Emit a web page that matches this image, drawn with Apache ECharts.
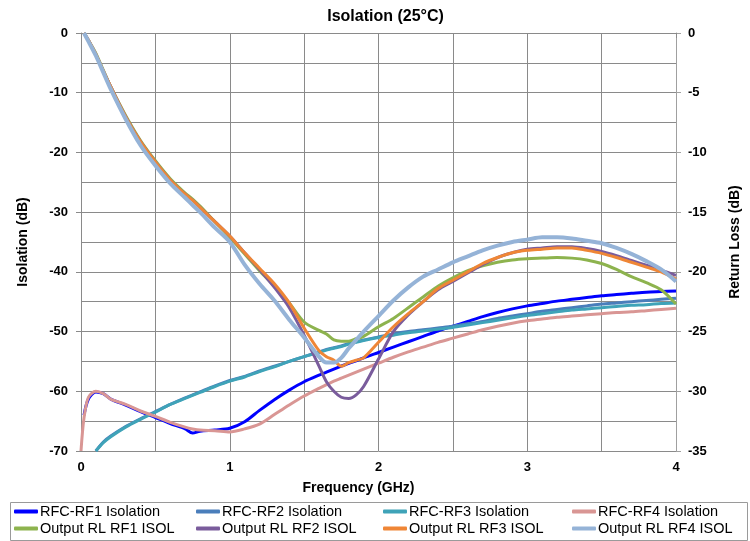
<!DOCTYPE html>
<html>
<head>
<meta charset="utf-8">
<script src="https://cdn.jsdelivr.net/npm/echarts@6/dist/echarts.min.js"></script>
<style>html,body{margin:0;padding:0;background:#fff}#c{width:750px;height:541px}</style>
</head>
<body>
<div id="c"></div>
<script>
// Frequency points (GHz)
var freq = [0, 0.02, 0.05, 0.1, 0.15, 0.2, 0.3, 0.4, 0.5, 0.6, 0.7, 0.75, 0.8, 0.9, 1.0, 1.1, 1.2, 1.3, 1.4, 1.5, 1.6, 1.65, 1.7, 1.75, 1.8, 1.85, 1.9, 2.0, 2.1, 2.2, 2.3, 2.4, 2.5, 2.6, 2.7, 2.8, 2.9, 3.0, 3.1, 3.2, 3.3, 3.4, 3.5, 3.6, 3.7, 3.8, 3.9, 4.0];

// Isolation (dB), left axis
var rf1Iso = [null, -64, -61.3, -60.1, -60.4, -61.3, -62.3, -63.4, -64.4, -65.4, -66.3, -67.0, -66.7, -66.5, -66.2, -65.1, -63.2, -61.4, -59.8, -58.4, -57.3, -56.8, -56.3, -55.8, -55.3, -54.9, -54.4, -53.5, -52.6, -51.7, -50.8, -49.9, -49.1, -48.3, -47.5, -46.8, -46.2, -45.7, -45.3, -44.9, -44.6, -44.3, -44.0, -43.8, -43.6, -43.4, -43.3, -43.2];
var rf2Iso = [null, null, null, -70, -68.5, -67.5, -65.9, -64.6, -63.4, -62.2, -61.1, -60.6, -60.1, -59.1, -58.2, -57.5, -56.6, -55.8, -55.0, -54.2, -53.4, -53.0, -52.7, -52.4, -52.0, -51.7, -51.4, -50.9, -50.4, -50.0, -49.7, -49.4, -49.1, -48.7, -48.3, -47.8, -47.4, -47.0, -46.6, -46.3, -46.0, -45.7, -45.4, -45.2, -45.0, -44.8, -44.6, -44.4];
var rf3Iso = [null, null, null, -70, -68.6, -67.6, -66.0, -64.7, -63.5, -62.2, -61.2, -60.7, -60.2, -59.2, -58.3, -57.6, -56.7, -55.9, -55.0, -54.2, -53.5, -53.1, -52.8, -52.5, -52.1, -51.8, -51.5, -51.0, -50.6, -50.2, -49.9, -49.6, -49.3, -48.9, -48.5, -48.1, -47.7, -47.3, -47.0, -46.7, -46.4, -46.2, -46.0, -45.8, -45.6, -45.5, -45.3, -45.2];
var rf4Iso = [-70, -64.5, -61.0, -60.0, -60.4, -61.3, -62.2, -63.3, -64.2, -65.2, -66.0, -66.3, -66.5, -66.6, -66.8, -66.3, -65.5, -63.9, -62.3, -60.8, -59.5, -58.9, -58.3, -57.8, -57.3, -56.8, -56.3, -55.3, -54.3, -53.4, -52.6, -51.8, -51.1, -50.4, -49.7, -49.1, -48.6, -48.2, -47.9, -47.6, -47.4, -47.2, -47.0, -46.8, -46.7, -46.5, -46.3, -46.1];

// Output return loss (dB), right axis
var rl1 = [null, 0, -0.6, -1.7, -3.1, -4.5, -6.9, -9.0, -10.7, -12.2, -13.4, -13.9, -14.5, -15.8, -17.1, -18.5, -19.9, -21.2, -22.6, -24.2, -24.9, -25.2, -25.7, -25.8, -25.8, -25.6, -25.4, -24.6, -23.9, -23.0, -22.1, -21.2, -20.5, -19.9, -19.5, -19.2, -19.0, -18.9, -18.85, -18.8, -18.85, -19.0, -19.3, -19.8, -20.4, -20.9, -21.5, -22.7];
var rl2 = [null, 0, -0.6, -1.8, -3.2, -4.5, -7.0, -9.1, -10.8, -12.3, -13.5, -14.0, -14.6, -15.8, -17.0, -18.4, -19.8, -21.3, -23.0, -25.3, -27.9, -29.2, -30.0, -30.5, -30.6, -30.3, -29.6, -27.3, -25.0, -23.6, -22.5, -21.5, -20.8, -20.1, -19.4, -18.8, -18.4, -18.1, -18.0, -17.9, -17.9, -18.05, -18.3, -18.65, -19.05, -19.45, -19.85, -20.3];
var rl3 = [null, 0, -0.6, -1.8, -3.2, -4.5, -7.0, -9.1, -10.8, -12.3, -13.5, -14.0, -14.6, -15.8, -17.0, -18.4, -19.7, -21.0, -22.6, -24.7, -26.6, -27.1, -27.4, -27.9, -27.6, -27.4, -27.2, -25.9, -24.6, -23.5, -22.5, -21.4, -20.7, -20.0, -19.3, -18.8, -18.4, -18.2, -18.1, -18.0, -18.0, -18.2, -18.45, -18.8, -19.2, -19.6, -20.0, -20.6];
var rl4 = [null, 0, -0.7, -1.9, -3.3, -4.7, -7.2, -9.4, -11.1, -12.6, -13.8, -14.4, -15.0, -16.3, -17.5, -19.4, -21.0, -22.4, -24.0, -25.5, -27.1, -27.6, -27.6, -27.2, -26.4, -25.7, -25.0, -23.7, -22.4, -21.3, -20.4, -19.8, -19.2, -18.7, -18.2, -17.8, -17.5, -17.3, -17.1, -17.1, -17.2, -17.4, -17.6, -18.0, -18.5, -19.1, -19.8, -20.8];

var names = ['RFC-RF1 Isolation', 'RFC-RF2 Isolation', 'RFC-RF3 Isolation', 'RFC-RF4 Isolation',
             'Output RL RF1 ISOL', 'Output RL RF2 ISOL', 'Output RL RF3 ISOL', 'Output RL RF4 ISOL'];
var values = [rf1Iso, rf2Iso, rf3Iso, rf4Iso, rl1, rl2, rl3, rl4];
var colors = ['#0000FF', '#4A7EBB', '#3FA3B8', '#D99694', '#8DB34E', '#7A5C9C', '#EF8636', '#95B3D7'];
var widths = [3, 3, 3, 3, 3, 3, 3, 4];
var xTickLabels = ['0', '1', '2', '3', '4'];

var FONT = 'Liberation Sans, Arial, sans-serif';
var GRID = '#8a8a8a';

function pairs(vals) {
  return freq.map(function (f, i) { return [f, vals[i] === null ? '-' : vals[i]]; });
}

var series = names.map(function (n, k) {
  return {
    name: n, type: 'line', yAxisIndex: k < 4 ? 0 : 1,
    data: pairs(values[k]), showSymbol: false, symbol: 'none', smooth: 0.3,
    connectNulls: false,
    lineStyle: { color: colors[k], width: widths[k] },
    itemStyle: { color: colors[k] },
    emphasis: { disabled: true }
  };
});

function legendCol(left, a, b) {
  return {
    orient: 'vertical', left: left, top: 504, height: 40, padding: 0, itemGap: 2,
    itemWidth: 24, itemHeight: 4, icon: 'roundRect',
    data: [names[a], names[b]],
    textStyle: { fontFamily: FONT, fontSize: 14.5, color: '#000', padding: [0, 0, 0, -3] },
    selectedMode: false
  };
}

var chart = echarts.init(document.getElementById('c'), null, { renderer: 'canvas' });
chart.setOption({
  backgroundColor: '#fff',
  animation: false,
  color: colors,
  title: {
    text: 'Isolation (25°C)', left: 380.5, top: 4, textAlign: 'center',
    textStyle: { fontFamily: FONT, fontSize: 16, fontWeight: 'bold', color: '#000' }
  },
  grid: { left: 81, right: 70, top: 33, bottom: 90 },
  legend: [legendCol(14, 0, 4), legendCol(196, 1, 5), legendCol(383, 2, 6), legendCol(572, 3, 7)],
  graphic: [{
    type: 'rect', left: 8, top: 500, shape: { width: 737, height: 38 },
    style: { fill: 'none', stroke: '#9a9a9a', lineWidth: 1 }, silent: true
  }],
  xAxis: {
    type: 'value', min: 0, max: 4, interval: 1,
    name: 'Frequency (GHz)', nameLocation: 'middle', nameGap: 30,
    nameTextStyle: { fontFamily: FONT, fontSize: 14, fontWeight: 'bold', color: '#000', padding: [0, 40, 0, 0] },
    axisLine: { show: true, lineStyle: { color: GRID, width: 1 } },
    axisTick: { show: true, length: 5, lineStyle: { color: GRID } },
    axisLabel: {
      margin: 10, fontFamily: FONT, fontSize: 13, fontWeight: 'bold', color: '#000',
      formatter: function (v) { return xTickLabels[Math.round(v)]; }
    },
    splitLine: { show: true, lineStyle: { color: GRID, width: 1 } },
    minorTick: { show: false, splitNumber: 2 },
    minorSplitLine: { show: true, lineStyle: { color: GRID, width: 1 } }
  },
  yAxis: [{
    type: 'value', min: -70, max: 0, interval: 10, position: 'left',
    name: 'Isolation (dB)', nameLocation: 'middle', nameGap: 51, nameRotate: 90,
    nameTextStyle: { fontFamily: FONT, fontSize: 14, fontWeight: 'bold', color: '#000' },
    axisLine: { show: true, lineStyle: { color: GRID, width: 1 } },
    axisTick: { show: true, length: 5, lineStyle: { color: GRID } },
    axisLabel: { margin: 13, fontFamily: FONT, fontSize: 13, fontWeight: 'bold', color: '#000' },
    splitLine: { show: true, lineStyle: { color: GRID, width: 1 } },
    minorTick: { show: false, splitNumber: 2 },
    minorSplitLine: { show: true, lineStyle: { color: GRID, width: 1 } }
  }, {
    type: 'value', min: -35, max: 0, interval: 5, position: 'right',
    name: 'Return Loss (dB)', nameLocation: 'middle', nameGap: 52, nameRotate: 90,
    nameTextStyle: { fontFamily: FONT, fontSize: 14, fontWeight: 'bold', color: '#000' },
    axisLine: { show: true, lineStyle: { color: '#a0a0a0', width: 1 } },
    axisTick: { show: true, length: 5, lineStyle: { color: '#a0a0a0' } },
    axisLabel: { margin: 12, fontFamily: FONT, fontSize: 13, fontWeight: 'bold', color: '#000' },
    splitLine: { show: false }
  }],
  series: series
});
</script>
</body>
</html>
